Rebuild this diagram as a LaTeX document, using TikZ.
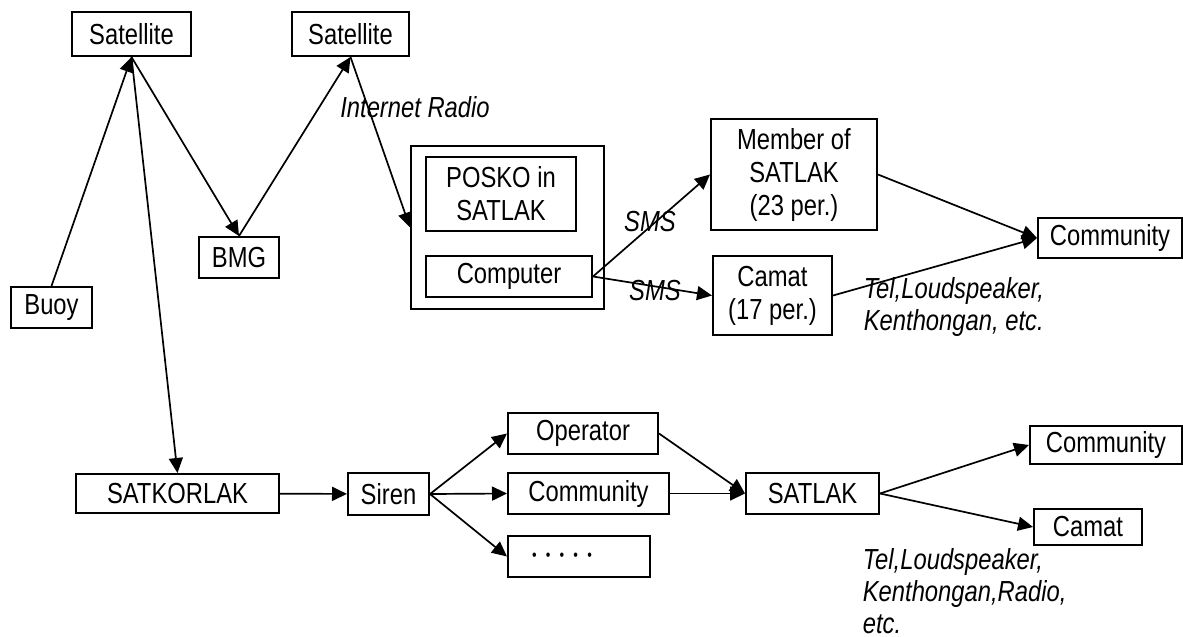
\documentclass[tikz,border=0pt]{standalone}
\usepackage{fontspec}
\setmainfont[FakeStretch=0.82]{Liberation Sans}
\usetikzlibrary{arrows.meta}
\newcommand{\sdot}{\scalebox{0.55}{\textbullet}}

\begin{document}
\begin{tikzpicture}[x=0.5pt,y=-0.5pt,line width=0.85pt,
  >={Triangle[length=7.5pt,width=7pt]},
  box/.style={draw,line width=1pt,inner sep=0pt,align=center,font=\fontsize{14.5}{16.5}\selectfont},
  lbl/.style={inner sep=0pt,align=left,font=\fontsize{14.5}{15.8}\selectfont\itshape}]
\useasboundingbox (0,0) rectangle (1183,637);
%satellites
\node[box,minimum width=59.5pt,minimum height=22pt] (sat1) at (131.5,34) {Satellite};
\node[box,minimum width=58.5pt,minimum height=22pt] (sat2) at (350.5,34) {Satellite};
\node[box,minimum width=40.5pt,minimum height=20.5pt] (buoy) at (51.5,307.5) {Buoy};
\node[box,minimum width=40pt,minimum height=20.5pt] (bmg) at (239,257.5) {BMG};
%posko
\node[box,minimum width=96.5pt,minimum height=81.5pt] (posko) at (507.5,227.5) {};
\node[box,minimum width=75pt,minimum height=37pt] (poskotxt) at (501,194) {POSKO in\\SATLAK};
\node[box,minimum width=83pt,minimum height=20.5pt] (computer) at (509,276.5) {Computer};
\node[box,minimum width=83pt,minimum height=55.5pt] (member) at (794,174.5) {Member of\\SATLAK\\(23 per.)};
\node[box,minimum width=59.5pt,minimum height=39.5pt] (camat) at (772.5,295.5) {Camat\\(17 per.)};
\node[box,minimum width=72pt,minimum height=20pt] (comm) at (1110,238) {Community};
%lower chain
\node[box,minimum width=101.5pt,minimum height=19.5pt] (satkorlak) at (177.5,493.5) {SATKORLAK};
\node[box,minimum width=40.5pt,minimum height=21pt] (siren) at (388.5,494) {Siren};
\node[box,minimum width=75pt,minimum height=20.5pt] (operator) at (583,433.5) {Operator};
\node[box,minimum width=80.5pt,minimum height=20.5pt] (sircomm) at (588.5,493.5) {Community};
\node[box,minimum width=71pt,minimum height=20.5pt] (others) at (579,556.5)
  {\sdot\hspace{4.6pt}\sdot\hspace{4.6pt}\sdot\hspace{4.6pt}\sdot\hspace{4.6pt}\sdot\hspace{17pt}};
\node[box,minimum width=66.5pt,minimum height=20.5pt] (satlak) at (812.5,493.5) {SATLAK};
\node[box,minimum width=76pt,minimum height=19pt] (comm2) at (1106,445) {Community};
\node[box,minimum width=54pt,minimum height=18pt] (camat2) at (1088,527) {Camat};
%labels
\node[lbl] (inet) at (415,107) {Internet Radio};
\node[lbl] (sms1) at (650,222) {SMS};
\node[lbl] (sms2) at (655,291) {SMS};
\node[lbl,anchor=north west] (media1) at (863,277) {Tel,Loudspeaker,\\Kenthongan, etc.};
\node[lbl,anchor=north west] (media2) at (862,548) {Tel,Loudspeaker,\\Kenthongan,Radio,\\etc.};
%arrows
\draw[->] (buoy.north) -- (sat1.south);
\draw[->] (sat1.south) -- (bmg.north);
\draw[->] (bmg.north) -- (sat2.south);
\draw[->] (sat2.south) -- (posko.west);
\draw[->] (sat1.south) -- (satkorlak.north);
\draw[->] (computer.east) -- (member.west);
\draw[->] (computer.east) -- (camat.west);
\draw[->] (member.east) -- (comm.west);
\draw[->] (camat.east) -- (comm.west);
\draw[->] (satkorlak) -- (siren);
\foreach \n in {operator,sircomm,others}
  \draw[->] (siren.east) -- (\n.west);
\draw[->] (operator.east) -- (satlak.west);
\draw[->] (sircomm) -- (satlak);
\draw[->] (satlak.east) -- (comm2.west);
\draw[->] (satlak.east) -- (camat2.west);
\end{tikzpicture}
\end{document}
